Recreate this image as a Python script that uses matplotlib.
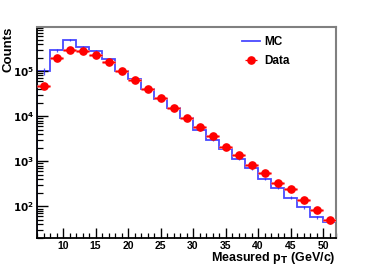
import matplotlib
matplotlib.use("Agg")
import matplotlib.pyplot as plt
import numpy as np
from matplotlib.ticker import MultipleLocator, LogLocator, NullFormatter, FixedLocator

bin_edges = [6, 8, 10, 12, 14, 16, 18, 20, 22, 24, 26, 28, 30, 32, 34, 36, 38, 40, 42, 44, 46, 48, 50, 52]
mc_counts = [1.0e5, 2.93e5, 4.88e5, 3.5e5, 2.85e5, 1.82e5, 1.0e5, 6.6e4, 4.0e4, 2.42e4, 1.5e4, 9.0e3,
             5.06e3, 3.03e3, 1.85e3, 1.11e3, 700, 413, 261, 156, 96, 58, 46]
mc_rel_err = [0.18, 0.08, 0.06, 0.05, 0.04, 0.04, 0.04, 0.04, 0.04, 0.04, 0.04, 0.04,
              0.05, 0.05, 0.05, 0.05, 0.06, 0.06, 0.07, 0.07, 0.08, 0.08, 0.09]
data_x = [7, 9, 11, 13, 15, 17, 19, 21, 23, 25, 27, 29, 31, 33, 35, 37, 39, 41, 43, 45, 47, 49, 51]
data_counts = [4.7e4, 1.98e5, 3.0e5, 2.8e5, 2.27e5, 1.56e5, 1.0e5, 6.5e4, 4.0e4, 2.5e4, 1.5e4, 9.3e3,
               5.9e3, 3.65e3, 2.1e3, 1.36e3, 815, 550, 336, 247, 141, 83, 49]
x_ticks = [10, 15, 20, 25, 30, 35, 40, 45, 50]
y_ticks = [1e2, 1e3, 1e4, 1e5]

plt.rcParams['font.family'] = ['Liberation Sans', 'DejaVu Sans']

fig = plt.figure(figsize=(3.74, 2.74), dpi=100)
ax = fig.add_axes([37/374, 36/274, 299/374, 211/274])

edges = np.array(bin_edges, dtype=float)
mc = np.array(mc_counts, dtype=float)
centers = 0.5 * (edges[:-1] + edges[1:])
blue = '#2a2aff'
ax.stairs(mc, edges, color=blue, lw=1.3, alpha=0.85, label='MC')
ax.errorbar(centers, mc, yerr=mc * np.array(mc_rel_err), fmt='none', ecolor=blue, elinewidth=0.9, alpha=0.8)

dx = np.array(data_x, dtype=float)
dy = np.array(data_counts, dtype=float)
ax.errorbar(dx, dy, xerr=1.0, fmt='none', ecolor='#ff8080', elinewidth=2.2, zorder=3)
ax.errorbar(dx, dy, xerr=1.0, fmt='o', color='#ff0000', ms=5.2, mec='#ff0000',
            ecolor='#ff0000', elinewidth=0.9, zorder=4, label='Data')

ax.set_yscale('log')
ax.set_xlim(6, 52)
ax.set_ylim(20, 9.5e5)

ax.xaxis.set_major_locator(FixedLocator(x_ticks))
ax.xaxis.set_minor_locator(MultipleLocator(1))
ax.yaxis.set_major_locator(FixedLocator(y_ticks))
ax.yaxis.set_minor_locator(LogLocator(base=10, subs=np.arange(2, 10)))
ax.yaxis.set_minor_formatter(NullFormatter())
ax.set_xticklabels([str(t) for t in x_ticks], fontweight='bold', fontsize=7.5)
ax.set_yticklabels([r'$\mathbf{10^{%d}}$' % int(np.log10(t)) for t in y_ticks], fontsize=7.5)

ax.tick_params(axis='both', which='major', direction='in', length=8, width=1.0, pad=2)
ax.tick_params(axis='both', which='minor', direction='in', length=4, width=0.9)
ax.tick_params(axis='x', which='major', length=7)
ax.tick_params(axis='x', which='minor', length=3.5)
ax.tick_params(top=False, right=False)

for s in ['left', 'bottom']:
    ax.spines[s].set_color('black')
    ax.spines[s].set_linewidth(1.3)
for s in ['top', 'right']:
    ax.spines[s].set_color('#808080')
    ax.spines[s].set_linewidth(1.5)

fig.text(9/374, 1 - 27/274, 'Counts', rotation=90, ha='center', va='top', fontsize=9.5, fontweight='bold')
fig.text(336/374, 1 - 258/274, r'Measured p$_\mathbf{T}$ (GeV/c)', ha='right', va='center',
         fontsize=9, fontweight='bold')

leg = ax.legend(loc='upper left', bbox_to_anchor=(0.67, 0.98), frameon=False, fontsize=8.5,
                handlelength=1.5, handletextpad=0.4, labelspacing=0.6, borderaxespad=0)
for t in leg.get_texts():
    t.set_fontweight('bold')

fig.savefig('out.png', dpi=100)
